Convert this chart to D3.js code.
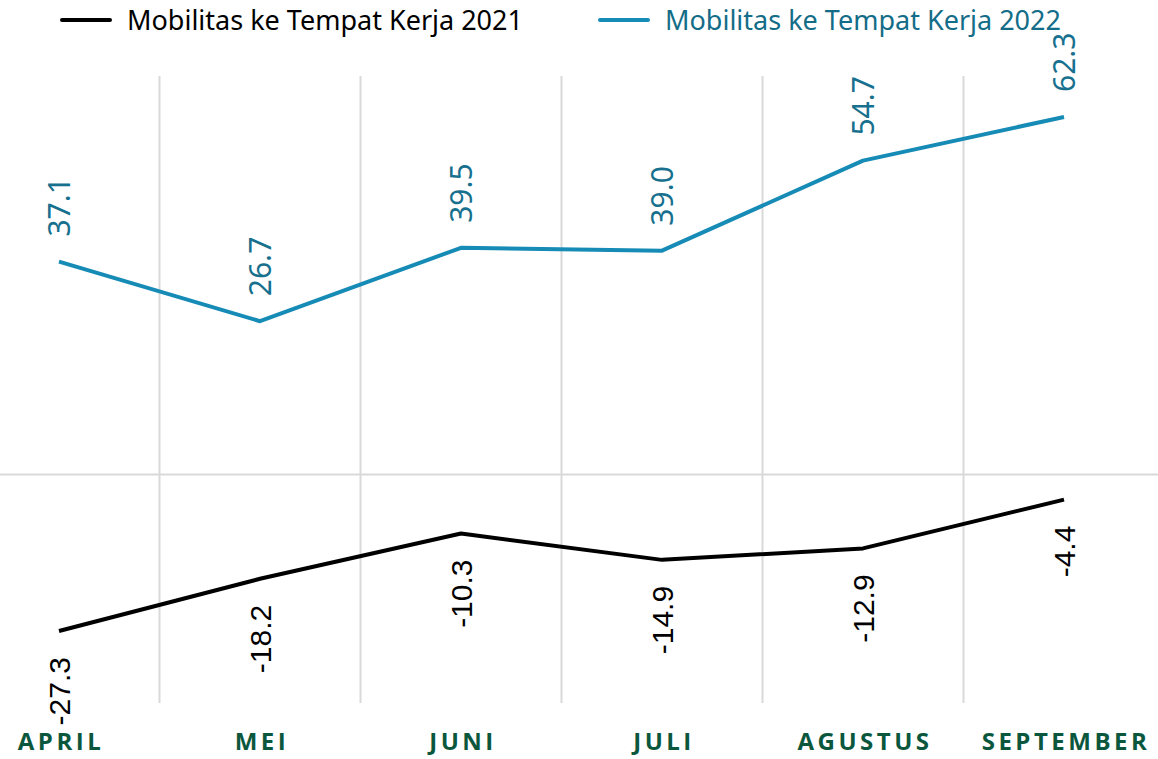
<!DOCTYPE html>
<html lang="id">
  <head>
    <meta charset="UTF-8" />
    <title>Mobilitas ke Tempat Kerja 2021 - 2022</title>
    <script src="https://cdn.jsdelivr.net/npm/d3@7"></script>
    <style>
      body {
        margin: 0;
        background-color: #ffffff;
      }

      svg {
        display: block;
      }

      .grid line {
        stroke: #d9d9d9;
        stroke-width: 2;
      }

      .legend text {
        font-family: 'Noto Sans', sans-serif;
        font-size: 27px;
      }

      .month {
        font-family: 'Open Sans', sans-serif;
        font-weight: 700;
        font-size: 24px;
        letter-spacing: 3.5px;
        fill: #0b573d;
      }
    </style>
  </head>
  <body>
    <svg width="1158" height="759"></svg>

    <script>
      const months = ['APRIL', 'MEI', 'JUNI', 'JULI', 'AGUSTUS', 'SEPTEMBER'];
      const values2021 = [-27.3, -18.2, -10.3, -14.9, -12.9, -4.4];
      const values2022 = [37.1, 26.7, 39.5, 39.0, 54.7, 62.3];
      const seriesNames = ['Mobilitas ke Tempat Kerja 2021', 'Mobilitas ke Tempat Kerja 2022'];

      const svg = d3.select('svg');
      const width = +svg.attr('width');

      const x = d3.scalePoint().domain(months).range([59, 1064]);
      const y = d3.scaleLinear().domain([-27.3, 62.3]).range([631, 117]);

      const series = [
        { name: seriesNames[0], values: values2021, line: '#000000', label: '#000000', legendText: '#000000' },
        { name: seriesNames[1], values: values2022, line: '#168bb6', label: '#17708e', legendText: '#146d88' }
      ];

      // gridlines between months
      const grid = svg.append('g').attr('class', 'grid');
      const step = x.step();
      grid
        .selectAll('line.v')
        .data(months.slice(0, -1))
        .enter()
        .append('line')
        .attr('class', 'v')
        .attr('x1', (d) => x(d) + step / 2)
        .attr('x2', (d) => x(d) + step / 2)
        .attr('y1', 76)
        .attr('y2', 703);

      grid
        .append('line')
        .attr('x1', 0)
        .attr('x2', width)
        .attr('y1', y(0))
        .attr('y2', y(0));

      // lines
      const line = d3
        .line()
        .x((d, i) => x(months[i]))
        .y((d) => y(d));

      svg
        .selectAll('path.series')
        .data(series)
        .enter()
        .append('path')
        .attr('class', 'series')
        .attr('fill', 'none')
        .attr('stroke', (d) => d.line)
        .attr('stroke-width', 4)
        .attr('stroke-linejoin', 'round')
        .attr('d', (d) => line(d.values));

      // rotated value labels
      series.forEach((s, si) => {
        svg
          .append('g')
          .selectAll('text')
          .data(s.values)
          .enter()
          .append('text')
          .attr('transform', (d, i) => {
            const px = x(months[i]);
            const py = d >= 0 ? y(d) - 25 : y(d) + 26;
            return `translate(${px},${py}) rotate(-90)`;
          })
          .attr('dy', '0.36em')
          .attr('text-anchor', (d) => (d >= 0 ? 'start' : 'end'))
          .attr('fill', s.label)
          .style('font-family', si === 0 ? "'Liberation Sans', Arial, sans-serif" : "'Noto Sans', sans-serif")
          .style('font-size', '30px')
          .text((d) => d.toFixed(1));
      });

      // month labels
      svg
        .append('g')
        .selectAll('text')
        .data(months)
        .enter()
        .append('text')
        .attr('class', 'month')
        .attr('x', (d) => x(d) + 2)
        .attr('y', 750)
        .attr('text-anchor', 'middle')
        .text((d) => d);

      // legend
      const legendX = [62, 600];
      const legend = svg
        .append('g')
        .attr('class', 'legend')
        .selectAll('g')
        .data(series)
        .enter()
        .append('g')
        .attr('transform', (d, i) => `translate(${legendX[i]},20)`);

      legend
        .append('line')
        .attr('x1', 0)
        .attr('x2', 48)
        .attr('stroke', (d) => d.line)
        .attr('stroke-width', 4)
        .attr('stroke-linecap', 'round');

      legend
        .append('text')
        .attr('x', 65)
        .attr('y', 10)
        .attr('fill', (d) => d.legendText)
        .text((d) => d.name);
    </script>
  </body>
</html>
